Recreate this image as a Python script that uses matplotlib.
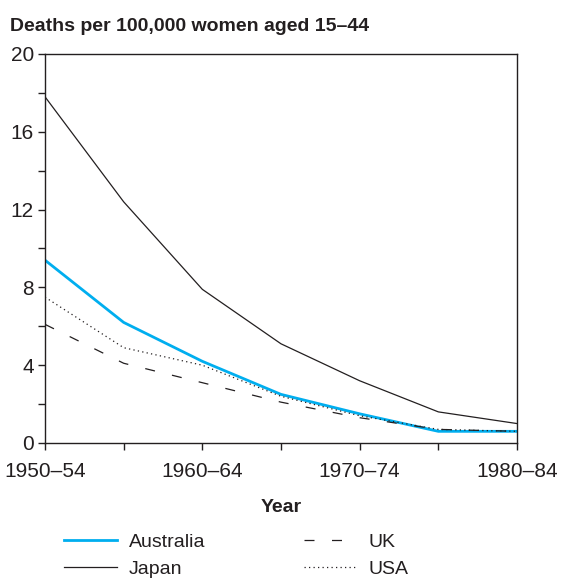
import matplotlib
matplotlib.use('Agg')
import matplotlib.pyplot as plt

# periods on the x axis
periods = ['1950–54', '1955–59', '1960–64', '1965–69', '1970–74', '1975–79', '1980–84']
tick_labels = ['1950–54', '', '1960–64', '', '1970–74', '', '1980–84']

# deaths per 100,000 women aged 15-44
australia = [9.4, 6.2, 4.2, 2.5, 1.5, 0.6, 0.6]
japan = [17.8, 12.4, 7.9, 5.1, 3.2, 1.6, 1.0]
uk = [6.1, 4.1, 3.1, 2.1, 1.3, 0.7, 0.6]
usa = [7.5, 4.9, 4.0, 2.4, 1.4, 0.7, 0.6]

ink = '#231f20'
plt.rcParams['font.family'] = ['Liberation Sans', 'DejaVu Sans']
plt.rcParams['text.color'] = ink

fig = plt.figure(figsize=(5.63, 5.78), dpi=100)
ax = fig.add_axes([45/563, 1-443/578, 472/563, 389/578])

x = list(range(len(periods)))
ax.plot(x, australia, color='#00aeef', lw=2.0, label='Australia', solid_joinstyle='miter')
ax.plot(x, japan, color=ink, lw=0.9, label='Japan')
ax.plot(x, uk, color=ink, lw=0.9, dashes=(8, 14), label='UK')
ax.plot(x, usa, color=ink, lw=0.9, dashes=(1, 2.6), label='USA')

ax.set_xlim(0, len(periods)-1)
ax.set_ylim(0, 20)
ax.set_xticks(x)
ax.set_xticklabels(tick_labels)
ax.set_yticks([0, 4, 8, 12, 16, 20])
ax.set_yticks([2, 6, 10, 14, 18], minor=True)
ax.tick_params(axis='both', which='both', direction='out', length=5, width=1,
               color=ink, labelcolor=ink, labelsize=15)
ax.tick_params(axis='x', pad=9)
ax.tick_params(axis='y', pad=3)
for s in ax.spines.values():
    s.set_color(ink)
    s.set_linewidth(1)

ax.set_xlabel('Year', fontsize=14, fontweight='bold', color=ink, labelpad=12.5)

fig.text(10/563, 1-31/578, 'Deaths per 100,000 women aged 15–44', fontsize=14,
         fontweight='bold', va='baseline', ha='left', color=ink)

handles, labels = ax.get_legend_handles_labels()
fig.legend(handles, labels, ncol=2, loc='upper left', bbox_to_anchor=(64/563, 1-533/578),
           frameon=False, fontsize=14, borderpad=0, borderaxespad=0,
           handlelength=2.7, handletextpad=0.62, columnspacing=5.1, labelspacing=0.5)

fig.savefig('out.png', dpi=100)
